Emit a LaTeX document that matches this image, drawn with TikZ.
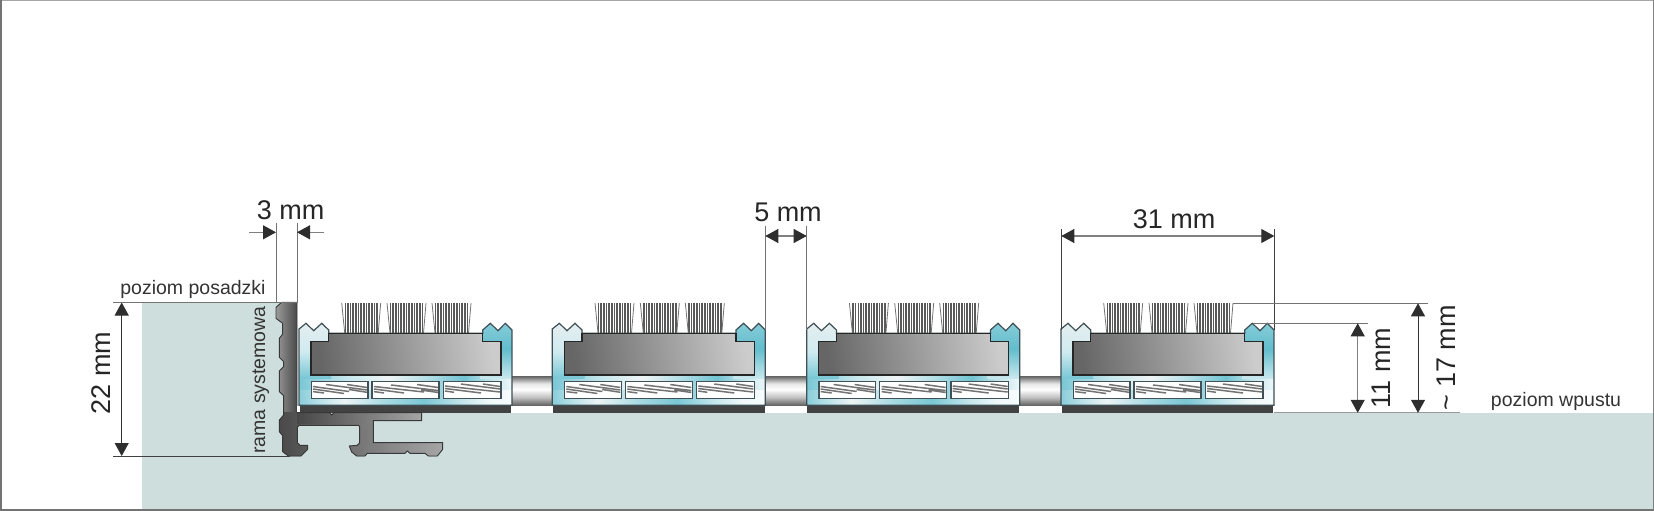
\documentclass[tikz,border=0pt]{standalone}
\usepackage{fontspec}
\setmainfont{Liberation Sans}
\usetikzlibrary{arrows.meta}
\definecolor{tq}{HTML}{62BDCD}
\definecolor{groundc}{HTML}{CDDEDC}
\definecolor{inkc}{HTML}{2E2E2E}
\definecolor{edgec}{HTML}{3F5056}
\pgfdeclarehorizontalshading{bandup}{100bp}{color(0bp)=(tq!85!white); color(25bp)=(tq!85!white); color(36.7bp)=(tq!35!white); color(46bp)=(tq!6!white!95!gray); color(55.5bp)=(tq!50!white); color(63.7bp)=(tq!90!white); color(69.6bp)=(tq!40!white); color(75bp)=(tq!12!white); color(100bp)=(tq!12!white)}
\pgfdeclarehorizontalshading{banddown}{100bp}{color(0bp)=(tq!75!white); color(25bp)=(tq!75!white); color(29.7bp)=(tq!45!white); color(35.6bp)=(tq!8!white!95!gray); color(45bp)=(tq!55!white); color(54.3bp)=(tq!85!white); color(62.6bp)=(tq!40!white); color(69.6bp)=(tq!10!white); color(75bp)=(tq!5!white); color(100bp)=(tq!5!white)}
\pgfdeclareverticalshading{colleft}{100bp}{color(0bp)=(tq); color(25bp)=(tq!85!white); color(48bp)=(tq!30!white); color(75bp)=(tq!8!white!90!gray); color(100bp)=(tq!8!white!90!gray)}
\pgfdeclareverticalshading{colright}{100bp}{color(0bp)=(tq!35!white); color(25bp)=(tq!35!white); color(50bp)=(tq); color(75bp)=(tq!75!white); color(100bp)=(tq!75!white)}
\pgfdeclarehorizontalshading{coreshade}{100bp}{color(0bp)=(black!60); color(25bp)=(black!60); color(50bp)=(black!40); color(75bp)=(black!20); color(100bp)=(black!20)}
\pgfdeclareverticalshading{linkshade}{100bp}{color(0bp)=(black!60); color(25bp)=(black!60); color(38bp)=(black!25); color(52bp)=(white); color(62bp)=(black!10); color(75bp)=(black!62); color(100bp)=(black!62)}
\pgfdeclarehorizontalshading{ramaup}{100bp}{color(0bp)=(black!38); color(25bp)=(black!38); color(75bp)=(black!72); color(100bp)=(black!72)}
\pgfdeclarehorizontalshading{ramaarm}{100bp}{color(0bp)=(black!72); color(25bp)=(black!72); color(75bp)=(black!35); color(100bp)=(black!35)}
\tikzset{
  dimtext/.style={font=\fontsize{27}{27}\selectfont,text=black!85,inner sep=0pt,anchor=base},
  leveltext/.style={font=\fontsize{19.5}{19.5}\selectfont,text=black!80,inner sep=0pt,anchor=base},
  extline/.style={draw=black!55,line width=.9pt},
  extdark/.style={draw=black!75,line width=.9pt},
  dimline/.style={draw=black!50,line width=1.1pt},
  dimdark/.style={draw=black!80,line width=1pt},
  tip/.style={>={Triangle[length=13pt,width=14pt,color=inkc]}},
  hatchline/.style={draw=black!55,line width=1.5pt},
  slotbox/.style={draw=edgec,line width=1.2pt,fill=white},
  bristle/.style={draw=black!65,line width=1.6pt},
  profile/.style={draw=black!78,line width=.9pt}
}
\newcommand{\brushmodule}[1]{%
\begin{scope}[shift={(#1,0)}]
  % bristles
  \foreach \t in {42.7,88,133}{
    \foreach \i in {0,...,12}{ \draw[bristle] ({\t+3.6+\i*2.65},303) -- ({\t+3.6+\i*2.65},333); }
    \draw[draw=black!55,line width=.8pt] (\t,303) -- ({\t+3},333);
    \draw[draw=black!55,line width=.8pt] ({\t+39},303) -- ({\t+36.5},333);
  }
  % base strip
  \fill[black!74] (0.6,405) rectangle (212.4,412.6);
  % body
  \def\bodypath{(0,329) -- (7,323.3) -- (14.7,330.7) -- (22.7,323.3) -- (29.7,330) -- (29.7,333.3) -- (183.7,333.3) -- (183.7,330) -- (191.3,323.3) -- (199,330.7) -- (206.3,323.3) -- (213,330) -- (213,405.3) -- (0,405.3) -- cycle}
  \begin{scope}
    \clip \bodypath;
    \fill[shading=bandup] (0,372) rectangle (213,390);
    \fill[shading=banddown] (0,390) rectangle (213,406);
    \fill[shading=colleft] (0,320) rectangle (32,378);
    \fill[shading=colright] (181,320) rectangle (213,378);
  \end{scope}
  \draw[draw=edgec,line width=1.2pt,line join=miter] \bodypath;
  % core
  \draw[shading=coreshade,shading angle=8,draw=black!85,line width=1.3pt]
    (29.7,333.3) -- (183.7,333.3) -- (183.7,341.3) -- (202,341.3) -- (202,375) -- (12,375) -- (12,341.3) -- (29.7,341.3) -- cycle;
  % slots
  \draw[slotbox] (12.3,381.4) rectangle (69,398.3);
  \draw[slotbox] (73,381.4) rectangle (140,398.3);
  \draw[slotbox] (144.3,381.4) rectangle (202,398.3);
  \draw[hatchline] (27,384.5) -- (68,390) (48,384.5) -- (68,387.5) (14,386.5) -- (50,391.5) (14,389) -- (45,393.5) (14,391.6) -- (25,393) (50,389.5) -- (68,392.3);
  \draw[hatchline] (92,385) -- (139,390.5) (118,384.5) -- (139,387.5) (75,386.5) -- (125,392) (75,389) -- (105,393) (75,391.6) -- (85,393) (122,390) -- (139,392.5);
  \draw[hatchline] (162,384) -- (201,389) (184,384) -- (201,386.5) (146,386) -- (201,392) (146,388.5) -- (182,393) (146,391) -- (155,392.3);
\end{scope}}
\begin{document}
\begin{tikzpicture}[x=1pt,y=-1pt]
\useasboundingbox (0,0) rectangle (1654,511);
% ground
\fill[groundc] (142,302.5) rectangle (290,413);
\fill[groundc] (142,413) rectangle (1654,510);
% level line
\coordinate (lvlA) at (1274.3,412.8);
\coordinate (lvlB) at (1460,412.8);
\draw[draw=black!40,line width=1pt] (lvlA) -- (lvlB);
% connectors between modules
\foreach \a/\b in {512/552.3,765.3/806.7,1019.7/1061}{
  \fill[shading=linkshade] (\a,376) rectangle (\b,405);
}
% modules
\brushmodule{299}
\brushmodule{552.3}
\brushmodule{806.7}
\brushmodule{1061}
% system frame profile
\begin{scope}[shift={(100,170)},x=.33333pt,y=-.33333pt]
  \def\ramapath{(591,397) -- (545,397) -- (528,412) -- (528,445) -- (548,460) -- (548,492) -- (538,505) -- (538,562) -- (551,575) -- (551,590) -- (538,603) -- (538,665) -- (551,677) -- (551,735) -- (538,750) -- (538,785) -- (548,797) -- (548,845) -- (565,858) -- (603,858) -- (623,838) -- (623,826) -- (600,826) -- (592,818) -- (592,772) -- (597,766) -- (775,766) -- (779,770) -- (779,818) -- (772,826) -- (748,828) -- (755,846) -- (770,858) -- (795,858) -- (802,850) -- (915,850) -- (922,843) -- (930,850) -- (975,850) -- (985,858) -- (1012,858) -- (1028,838) -- (1028,818) -- (820,818) -- (820,752) -- (965,752) -- (965,728) -- (702,728) -- (695,735) -- (688,728) -- (591,728) -- cycle}
  \begin{scope}
    \clip \ramapath;
    \fill[shading=ramaup] (525,395) rectangle (592,730);
    \fill[shading=ramaarm] (525,728) rectangle (1030,860);
    \fill[shading=ramaarm] (591,728) rectangle (970,760);
  \end{scope}
  \draw[profile] \ramapath;
  \fill[white] (592,708) rectangle (598,727);
\end{scope}
% dimension coordinates
\coordinate (a3) at (276,223);
\coordinate (a3b) at (276,302.5);
\coordinate (b3) at (297,223);
\coordinate (b3b) at (297,302.5);
\coordinate (a3l) at (249,232.3);
\coordinate (a3t) at (276,232.3);
\coordinate (b3t) at (297,232.3);
\coordinate (b3r) at (324,232.3);
\draw[extline] (a3) -- (a3b);
\draw[extline] (b3) -- (b3b);
\draw[tip,->,dimline] (a3l) -- (a3t);
\draw[tip,->,dimline] (b3r) -- (b3t);
% floor level and 22 mm
\coordinate (fl) at (113,302.5);
\coordinate (fr) at (297,302.5);
\coordinate (bl) at (113,456);
\coordinate (br) at (290,456);
\coordinate (d22a) at (121.7,302.5);
\coordinate (d22b) at (121.7,456);
\draw[extline] (fl) -- (fr);
\draw[extdark] (bl) -- (br);
\draw[tip,<->,dimdark] (d22a) -- (d22b);
% 5 mm
\coordinate (a5) at (765.3,225.7);
\coordinate (a5b) at (765.3,330);
\coordinate (b5) at (806.7,225.7);
\coordinate (b5b) at (806.7,330);
\coordinate (a5t) at (765.3,236);
\coordinate (b5t) at (806.7,236);
\draw[extline] (a5) -- (a5b);
\draw[extline] (b5) -- (b5b);
\draw[tip,<->,dimline] (a5t) -- (b5t);
% 31 mm
\coordinate (a31) at (1061.3,229);
\coordinate (a31b) at (1061.3,330);
\coordinate (b31) at (1274.3,229);
\coordinate (b31b) at (1274.3,330);
\coordinate (a31t) at (1061.3,236);
\coordinate (b31t) at (1274.3,236);
\draw[extdark] (a31) -- (a31b);
\draw[extdark] (b31) -- (b31b);
\draw[tip,<->,dimline] (a31t) -- (b31t);
% 11 mm, 17 mm
\coordinate (e11a) at (1253,323.3);
\coordinate (e11b) at (1367.7,323.3);
\coordinate (e17a) at (1233,303.3);
\coordinate (e17b) at (1428,303.3);
\draw[extline] (e11a) -- (e11b);
\draw[extline] (e17a) -- (e17b);
\coordinate (d11a) at (1357.7,323.3);
\coordinate (d11b) at (1357.7,412.8);
\coordinate (d17a) at (1418,303.3);
\coordinate (d17b) at (1418,412.8);
\draw[tip,<->,dimline] (d11a) -- (d11b);
\draw[tip,<->,dimdark] (d17a) -- (d17b);
% frame
\fill[black!35] (0,0) rectangle (1654,1.2);
\fill[black!55] (0,0) rectangle (1.6,511);
\fill[black!55] (0,509) rectangle (1654,511);
\fill[black!50] (1653,0) rectangle (1654,511);
% texts
\node[dimtext] (t3) at (290.7,219.3) {3 mm};
\node[dimtext] (t5) at (788,221.7) {5 mm};
\node[dimtext] (t31) at (1174,228.3) {31 mm};
\node[dimtext,rotate=90] (t22) at (110.5,373) {22 mm};
\node[dimtext,rotate=90] (t11) at (1390.7,368) {11 mm};
\node[dimtext,rotate=90] (t17) at (1455,358) {\textasciitilde{} 17 mm};
\node[leveltext] (tp) at (193,294) {poziom posadzki};
\node[leveltext] (tw) at (1556,406.7) {poziom wpustu};
\node[leveltext,rotate=90] (tr) at (265,380) {rama systemowa};
\end{tikzpicture}
\end{document}
